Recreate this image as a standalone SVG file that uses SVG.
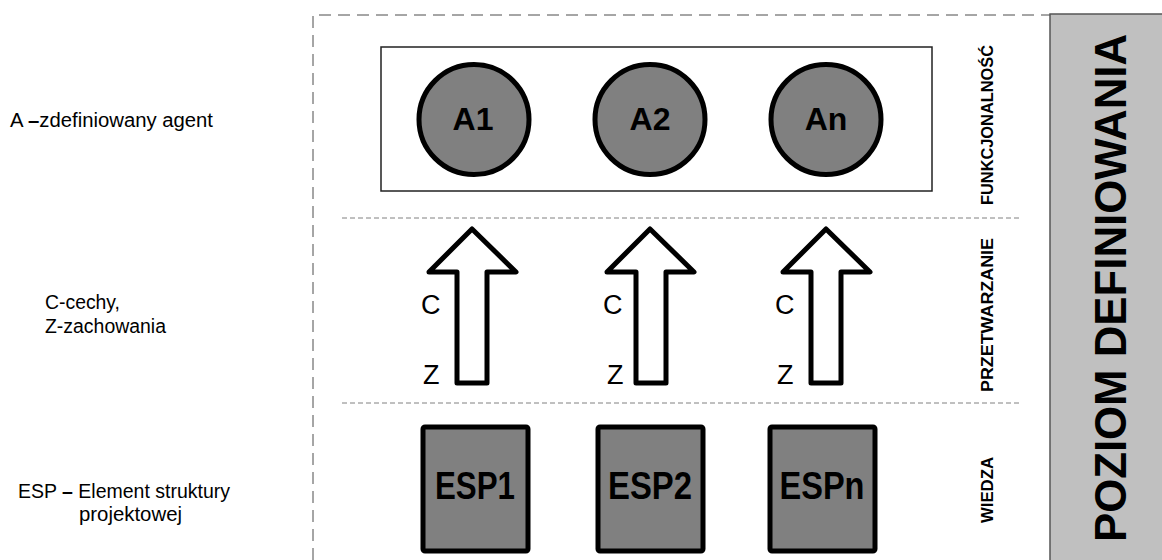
<svg xmlns="http://www.w3.org/2000/svg" width="1162" height="560" viewBox="0 0 1162 560">
  <style>
    .lbl { font-family: "Liberation Sans", Arial, sans-serif; font-size: 20px; fill: #000; }
    .dash { font-weight: bold; }
    .band { font-family: "Liberation Sans", Arial, sans-serif; font-size: 16px; font-weight: bold; fill: #000; }
    .agent { fill: #808080; stroke: #000; stroke-width: 5; }
    .agent-t { font-family: "Liberation Sans", Arial, sans-serif; font-size: 32px; font-weight: bold; fill: #000; }
    .esp { fill: #808080; stroke: #000; stroke-width: 5; }
    .esp-t { font-family: "Liberation Sans", Arial, sans-serif; font-size: 38px; font-weight: bold; fill: #000; }
    .flow { fill: #fff; stroke: #000; stroke-width: 5; stroke-linejoin: round; }
    .flow-t { font-family: "Liberation Sans", Arial, sans-serif; font-size: 27px; fill: #000; }
    .sep { stroke: #808080; stroke-width: 1; stroke-dasharray: 5 3; fill: none; }
    .frame { stroke: #4d4d4d; stroke-width: 1; stroke-dasharray: 12 7; fill: none; }
  </style>

  <rect width="1162" height="560" fill="#fff"/>

  <!-- legend on the left -->
  <g id="legend">
    <text class="lbl" x="10" y="127" textLength="203" lengthAdjust="spacingAndGlyphs">A <tspan class="dash">–</tspan>zdefiniowany agent</text>
    <text class="lbl" x="45" y="309" textLength="75" lengthAdjust="spacingAndGlyphs">C-cechy,</text>
    <text class="lbl" x="45" y="333" textLength="121" lengthAdjust="spacingAndGlyphs">Z-zachowania</text>
    <text class="lbl" x="18" y="498" textLength="212" lengthAdjust="spacingAndGlyphs">ESP <tspan class="dash">–</tspan> Element struktury</text>
    <text class="lbl" x="79" y="521" textLength="103" lengthAdjust="spacingAndGlyphs">projektowej</text>
  </g>

  <!-- dashed frame and layer separators -->
  <g id="frame">
    <path class="frame" d="M313,560 V15 H1050"/>
    <line class="sep" x1="342" y1="218" x2="1020" y2="218"/>
    <line class="sep" x1="342" y1="403" x2="1020" y2="403"/>
  </g>

  <!-- level title bar -->
  <g id="level">
    <rect x="1050" y="14" width="114" height="550" fill="#c0c0c0" stroke="#555" stroke-width="1.5"/>
    <text font-family="Liberation Sans, Arial, sans-serif" font-size="44" font-weight="bold" text-anchor="middle" transform="translate(1126,288) rotate(-90)" textLength="508" lengthAdjust="spacingAndGlyphs">POZIOM DEFINIOWANIA</text>
  </g>

  <!-- layer names -->
  <g id="layers">
    <text class="band" text-anchor="middle" transform="translate(993,125) rotate(-90)" textLength="160" lengthAdjust="spacingAndGlyphs">FUNKCJONALNOŚĆ</text>
    <text class="band" text-anchor="middle" transform="translate(993,315) rotate(-90)" textLength="154" lengthAdjust="spacingAndGlyphs">PRZETWARZANIE</text>
    <text class="band" text-anchor="middle" transform="translate(993,490) rotate(-90)" textLength="66" lengthAdjust="spacingAndGlyphs">WIEDZA</text>
  </g>

  <!-- agents -->
  <g id="agents">
    <rect x="381" y="47" width="551" height="144" fill="#fff" stroke="#222" stroke-width="1.5"/>
    <g id="A1">
      <circle class="agent" cx="474" cy="119.5" r="55"/>
      <text class="agent-t" x="473" y="130" text-anchor="middle">A1</text>
    </g>
    <g id="A2">
      <circle class="agent" cx="650" cy="119.5" r="55"/>
      <text class="agent-t" x="650" y="130" text-anchor="middle">A2</text>
    </g>
    <g id="An">
      <circle class="agent" cx="826" cy="119.5" r="55"/>
      <text class="agent-t" x="826" y="130" text-anchor="middle">An</text>
    </g>
  </g>

  <!-- processing arrows -->
  <g id="connectors">
    <path class="flow" d="M472,229 L516,272 H487 V383 H457 V272 H429 Z"/>
    <text class="flow-t" x="421" y="314">C</text>
    <text class="flow-t" x="423" y="384">Z</text>

    <path class="flow" d="M650,229 L694,272 H666 V383 H636 V272 H607 Z"/>
    <text class="flow-t" x="603" y="314">C</text>
    <text class="flow-t" x="607" y="384">Z</text>

    <path class="flow" d="M826,229 L870,272 H841 V383 H811 V272 H783 Z"/>
    <text class="flow-t" x="775" y="314">C</text>
    <text class="flow-t" x="777" y="384">Z</text>
  </g>

  <!-- design structure elements -->
  <g id="ESP1">
    <rect class="esp" x="423" y="427" width="105" height="124" rx="2"/>
    <text class="esp-t" x="475" y="499" text-anchor="middle" textLength="80" lengthAdjust="spacingAndGlyphs">ESP1</text>
  </g>
  <g id="ESP2">
    <rect class="esp" x="598" y="427" width="105" height="124" rx="2"/>
    <text class="esp-t" x="650" y="499" text-anchor="middle" textLength="84" lengthAdjust="spacingAndGlyphs">ESP2</text>
  </g>
  <g id="ESPn">
    <rect class="esp" x="770" y="427" width="105" height="124" rx="2"/>
    <text class="esp-t" x="822" y="499" text-anchor="middle" textLength="85" lengthAdjust="spacingAndGlyphs">ESPn</text>
  </g>
</svg>
